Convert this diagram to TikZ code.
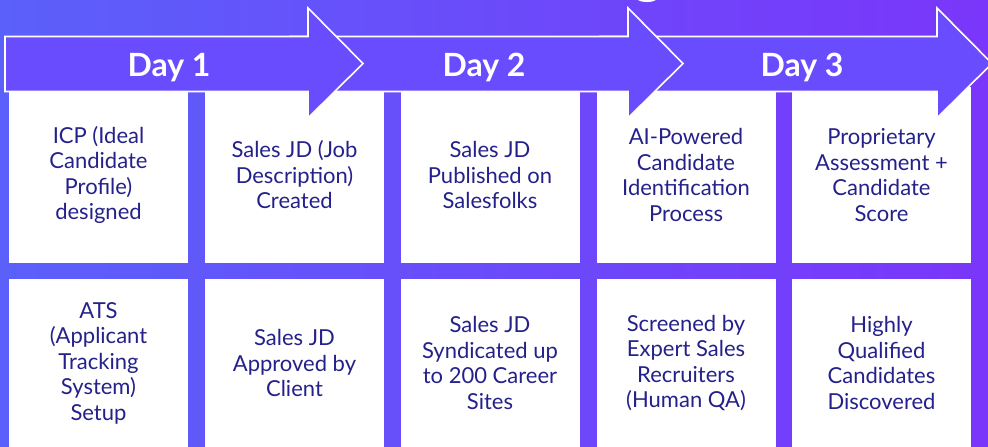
\documentclass[tikz,border=0pt]{standalone}
\usepackage{fontspec}
\setmainfont{Lato}

\definecolor{bgleft}{HTML}{5B60FA}
\definecolor{bgright}{HTML}{7A36FA}
\definecolor{dayfill}{HTML}{6A4CFF}
\definecolor{cardtext}{HTML}{25218A}

\tikzset{
  stepcard/.style={fill=white, minimum width=179pt, inner sep=0pt, text=cardtext, align=center, font=\fontsize{22}{25.5}\selectfont},
  toprow/.style={stepcard, minimum height=176pt},
  bottomrow/.style={stepcard, minimum height=168pt},
  dayarrow/.style={fill=dayfill, draw=white, line width=1.6pt, line join=miter},
  daylabel/.style={text=white, anchor=base, font=\fontsize{32}{36}\selectfont\bfseries},
}

\begin{document}
\begin{tikzpicture}[x=1pt, y=-1pt]
\useasboundingbox (0,0) rectangle (988,447);
\shade[left color=bgleft, right color=bgright] (0,0) rectangle (988,447);
% what is left of the title
\node[text=white, anchor=base, font=\fontsize{56}{60}\selectfont\bfseries] (Title) at (648,-8) {g};

% top row
\node[toprow] (ICP) at (98.5,175) {ICP (Ideal\\Candidate\\Profile)\\designed};
\node[toprow] (JD Created) at (294.5,175) {Sales JD (Job\\Description)\\Created};
\node[toprow] (JD Published) at (490,175) {Sales JD\\Published on\\Salesfolks};
\node[toprow] (AI Search) at (686,175) {AI-Powered\\Candidate\\Identification\\Process};
\node[toprow] (Assessment) at (881.5,175) {Proprietary\\Assessment +\\Candidate\\Score};

% bottom row
\node[bottomrow] (ATS) at (98.5,363) {ATS\\(Applicant\\Tracking\\System)\\Setup};
\node[bottomrow] (JD Approved) at (294.5,363) {Sales JD\\Approved by\\Client};
\node[bottomrow] (JD Syndicated) at (490,363) {Sales JD\\Syndicated up\\to 200 Career\\Sites};
\node[bottomrow] (Screened) at (686,363) {Screened by\\Expert Sales\\Recruiters\\(Human QA)};
\node[bottomrow] (Qualified) at (881.5,363) {Highly\\Qualified\\Candidates\\Discovered};

% day arrows, last one first
\draw[dayarrow] (600,36.5) -- (937,36.5) -- (937,8) -- (992,63.5) -- (937,118) -- (937,91.5) -- (600,91.5) -- cycle;
\draw[dayarrow] (290,36.5) -- (628,36.5) -- (628,8) -- (683,63.5) -- (628,118) -- (628,91.5) -- (290,91.5) -- cycle;
\draw[dayarrow] (5,36.5) -- (308,36.5) -- (308,8) -- (363,63.5) -- (308,118) -- (308,91.5) -- (5,91.5) -- cycle;
\node[daylabel] (Day 1) at (169,76) {Day 1};
\node[daylabel] (Day 2) at (484,76) {Day 2};
\node[daylabel] (Day 3) at (802,76) {Day 3};

\end{tikzpicture}
\end{document}
